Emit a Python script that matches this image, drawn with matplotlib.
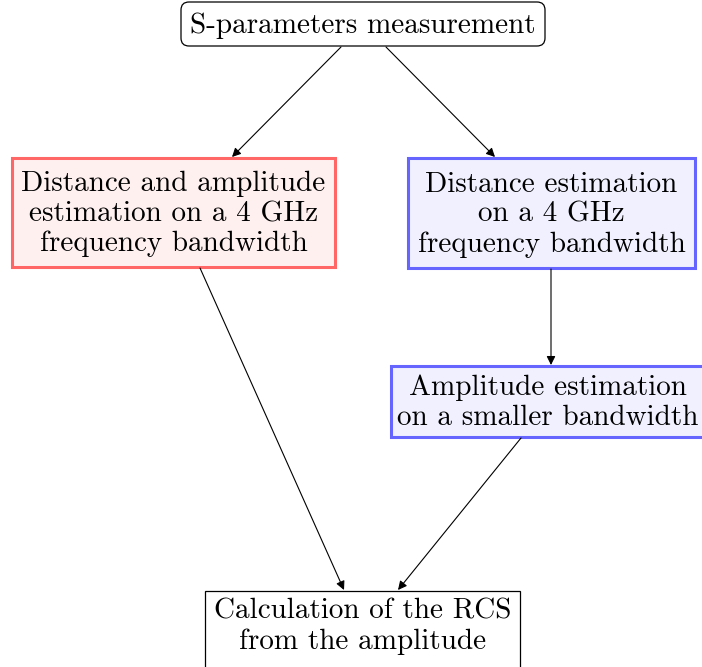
import matplotlib.pyplot as plt
from matplotlib.patches import FancyBboxPatch, Rectangle

plt.rcParams['font.family'] = ['cmr10', 'DejaVu Serif']
plt.rcParams['mathtext.fontset'] = 'cm'

# node texts
labels = [
    "S-parameters measurement",
    "Distance and amplitude\nestimation on a 4 GHz\nfrequency bandwidth",
    "Distance estimation\non a 4 GHz\nfrequency bandwidth",
    "Amplitude estimation\non a smaller bandwidth",
    "Calculation of the RCS\nfrom the amplitude",
]
# box extents in pixels: x0, y0, x1, y1 (y downward)
boxes = [
    (181, 2, 545, 46),
    (12, 158, 335, 267),
    (408, 158, 695, 268),
    (391, 366, 704, 437),
    (205, 591, 520, 672),
]
face = ['white', '#fff0f0', '#f0f0ff', '#f0f0ff', 'white']
edge = ['black', '#ff6666', '#6666ff', '#6666ff', 'black']
lw = [0.9, 2.2, 2.2, 2.2, 0.9]

# arrows: start -> end (pixels)
arrows = [
    ((341, 47), (232, 157)),
    ((386, 47), (495, 157)),
    ((200, 268), (344, 590)),
    ((551, 269), (551, 365)),
    ((521, 438), (398, 590)),
]

fig = plt.figure(figsize=(7.02, 6.67), dpi=100)
ax = fig.add_axes([0, 0, 1, 1])
ax.set_xlim(0, 702)
ax.set_ylim(667, 0)
ax.axis('off')

for i, (x0, y0, x1, y1) in enumerate(boxes):
    if i == 0:
        p = FancyBboxPatch((x0 + 8, y0 + 8), x1 - x0 - 16, y1 - y0 - 16,
                           boxstyle="round,pad=8", fc=face[i], ec=edge[i], lw=lw[i])
    else:
        p = Rectangle((x0, y0), x1 - x0, y1 - y0, fc=face[i], ec=edge[i], lw=lw[i])
    ax.add_patch(p)
    cy = (y0 + y1) / 2 if i < 4 else 625
    ax.text((x0 + x1) / 2, cy + 1.5, labels[i],
            ha='center', va='center', fontsize=21, linespacing=1.17)

for (s, e) in arrows:
    ax.annotate('', xy=e, xytext=s,
                arrowprops=dict(arrowstyle='-|>', color='black', lw=0.8,
                                mutation_scale=13, shrinkA=0, shrinkB=0))

fig.savefig('out.png', dpi=100)
